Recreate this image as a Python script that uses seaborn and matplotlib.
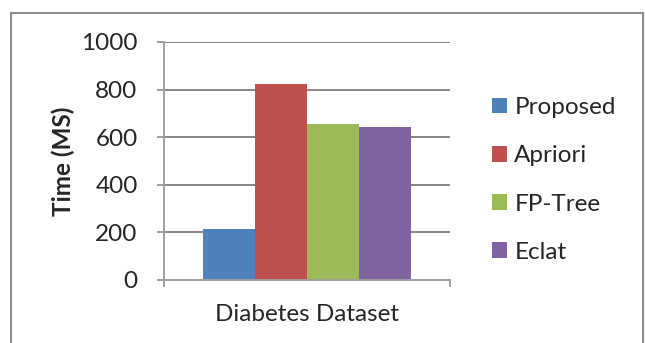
import matplotlib
matplotlib.use("Agg")
import matplotlib.pyplot as plt
import seaborn as sns
import pandas as pd
from matplotlib.patches import Rectangle, Patch

# Execution time per algorithm on the diabetes dataset
categories = ["Diabetes Dataset"]
algorithms = ["Proposed", "Apriori", "FP-Tree", "Eclat"]
times_ms = [215, 825, 657, 644]
colors = ["#4F81BD", "#C0504D", "#9BBB59", "#8064A2"]
y_ticks = [0, 200, 400, 600, 800, 1000]

df = pd.DataFrame({
    "Dataset": categories * len(algorithms),
    "Algorithm": algorithms,
    "Time": times_ms,
})

sns.set_theme(style="white")
plt.rcParams["font.family"] = ["Lato", "DejaVu Sans"]
FS = 17.5
GRID = "#868686"

fig = plt.figure(figsize=(6.45, 3.43), dpi=100)
ax = fig.add_axes([164 / 645, 1 - 280 / 343, (450 - 164) / 645, (280 - 42) / 343])

sns.barplot(data=df, x="Dataset", y="Time", hue="Algorithm",
            palette=colors, width=0.727, saturation=1, ax=ax, legend=False,
            linewidth=0, edgecolor="none")

ax.set_xlim(-0.5, 0.5)
ax.set_ylim(0, 1000)
ax.set_yticks(y_ticks)
ax.set_yticklabels([str(v) for v in y_ticks], fontsize=FS)
ax.yaxis.grid(True, color=GRID, linewidth=1.4)
ax.set_axisbelow(True)

for side in ["top", "right"]:
    ax.spines[side].set_visible(False)
for side in ["left", "bottom"]:
    ax.spines[side].set_color("#A0A0A0")
    ax.spines[side].set_linewidth(1.4)

ax.tick_params(axis="y", direction="out", length=5, width=1.4, color="#A0A0A0",
               pad=14, left=True)
ax.set_xticks([0])
ax.set_xticklabels(categories, fontsize=FS)
ax.tick_params(axis="x", which="major", length=0, pad=17)
ax.set_xticks([-0.5, 0.5], minor=True)
ax.tick_params(axis="x", which="minor", direction="out", length=5, width=1.4,
               color="#A0A0A0", bottom=True)
ax.set_xlabel("")
ax.set_ylabel("")

fig.text(63 / 645, 1 - 161 / 343, "Time (MS)", rotation=90, ha="center",
         va="center", fontsize=FS, fontweight="bold")

handles = [Patch(facecolor=c, edgecolor="none") for c in colors]
fig.legend(handles, algorithms, loc="center left",
           bbox_to_anchor=(492 / 645, 1 - 180 / 343), frameon=False,
           fontsize=FS, handlelength=0.62, handleheight=0.62,
           handletextpad=0.3, labelspacing=1.12, borderpad=0, borderaxespad=0)

# Outer chart border
fig.patches.append(Rectangle((11 / 645, -0.1), (643 - 11) / 645, 1.1 - 13 / 343,
                             transform=fig.transFigure, fill=False,
                             edgecolor="#8C8C8C", linewidth=1.5))

fig.savefig("out.png", dpi=100)
